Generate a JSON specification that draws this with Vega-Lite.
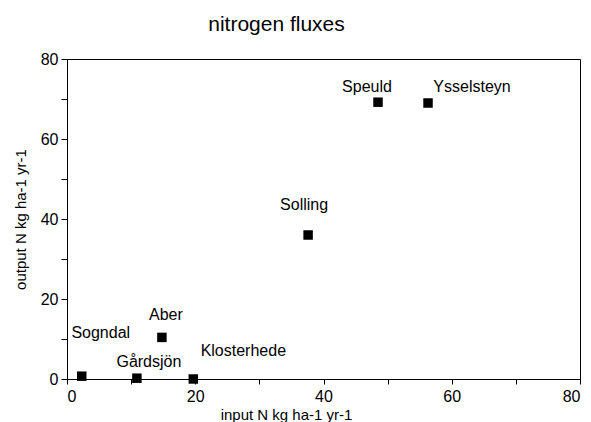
{
  "$schema": "https://vega.github.io/schema/vega-lite/v6.json",
  "width": 513,
  "height": 320,
  "autosize": {"type": "none"},
  "padding": {"left": 67, "top": 59, "right": 11, "bottom": 43},
  "background": "white",
  "config": {
    "view": {"stroke": "black", "strokeWidth": 1},
    "font": "Liberation Sans",
    "axis": {
      "grid": false,
      "domainColor": "black",
      "tickColor": "black",
      "labelColor": "black",
      "titleColor": "black",
      "labelFont": "Liberation Sans",
      "titleFont": "Liberation Sans",
      "labelFontSize": 16,
      "titleFontSize": 15,
      "titleFontWeight": "normal",
      "tickSize": 5
    }
  },
  "title": {
    "text": "nitrogen fluxes",
    "fontSize": 21,
    "fontWeight": "normal",
    "font": "Liberation Sans",
    "color": "black",
    "dx": -47,
    "offset": 16
  },
  "data": {
    "values": [
      {"name": "Sogndal", "input": 2.3, "output": 0.7},
      {"name": "Gårdsjön", "input": 10.9, "output": 0.2},
      {"name": "Klosterhede", "input": 19.7, "output": 0.0},
      {"name": "Aber", "input": 14.8, "output": 10.4},
      {"name": "Solling", "input": 37.6, "output": 36.0},
      {"name": "Speuld", "input": 48.5, "output": 69.2},
      {"name": "Ysselsteyn", "input": 56.3, "output": 69.0}
    ]
  },
  "encoding": {
    "x": {
      "field": "input",
      "type": "quantitative",
      "scale": {"domain": [0, 80], "nice": false, "zero": true},
      "axis": {
        "title": "input N kg ha-1 yr-1",
        "values": [0, 10, 20, 30, 40, 50, 60, 70, 80],
        "labelExpr": "datum.value % 20 == 0 ? datum.label : ''",
        "labelPadding": 4,
        "titleX": 219,
        "titleY": 28,
        "titleBaseline": "top"
      }
    },
    "y": {
      "field": "output",
      "type": "quantitative",
      "scale": {"domain": [0, 80], "nice": false},
      "axis": {
        "title": "output N kg ha-1 yr-1",
        "values": [0, 10, 20, 30, 40, 50, 60, 70, 80],
        "labelExpr": "datum.value % 20 == 0 ? datum.label : ''",
        "labelPadding": 3,
        "tickSize": 6,
        "titlePadding": 12
      }
    }
  },
  "layer": [
    {
      "mark": {"type": "point", "shape": "square", "filled": true, "color": "black", "opacity": 1, "size": 90}
    },
    {
      "transform": [{"filter": "datum.name == 'Speuld'"}],
      "mark": {"type": "text", "fontSize": 16, "color": "black", "align": "center", "baseline": "middle", "dx": -11, "dy": -15},
      "encoding": {"text": {"field": "name"}}
    },
    {
      "transform": [{"filter": "datum.name == 'Ysselsteyn'"}],
      "mark": {"type": "text", "fontSize": 16, "color": "black", "align": "center", "baseline": "middle", "dx": 44, "dy": -16},
      "encoding": {"text": {"field": "name"}}
    },
    {
      "transform": [{"filter": "datum.name == 'Solling'"}],
      "mark": {"type": "text", "fontSize": 16, "color": "black", "align": "center", "baseline": "middle", "dx": -4, "dy": -30},
      "encoding": {"text": {"field": "name"}}
    },
    {
      "transform": [{"filter": "datum.name == 'Aber'"}],
      "mark": {"type": "text", "fontSize": 16, "color": "black", "align": "center", "baseline": "middle", "dx": 4, "dy": -22},
      "encoding": {"text": {"field": "name"}}
    },
    {
      "transform": [{"filter": "datum.name == 'Sogndal'"}],
      "mark": {"type": "text", "fontSize": 16, "color": "black", "align": "center", "baseline": "middle", "dx": 19, "dy": -43},
      "encoding": {"text": {"field": "name"}}
    },
    {
      "transform": [{"filter": "datum.name == 'Gårdsjön'"}],
      "mark": {"type": "text", "fontSize": 16, "color": "black", "align": "center", "baseline": "middle", "dx": 12, "dy": -16},
      "encoding": {"text": {"field": "name"}}
    },
    {
      "transform": [{"filter": "datum.name == 'Klosterhede'"}],
      "mark": {"type": "text", "fontSize": 16, "color": "black", "align": "center", "baseline": "middle", "dx": 50, "dy": -28},
      "encoding": {"text": {"field": "name"}}
    }
  ]
}
